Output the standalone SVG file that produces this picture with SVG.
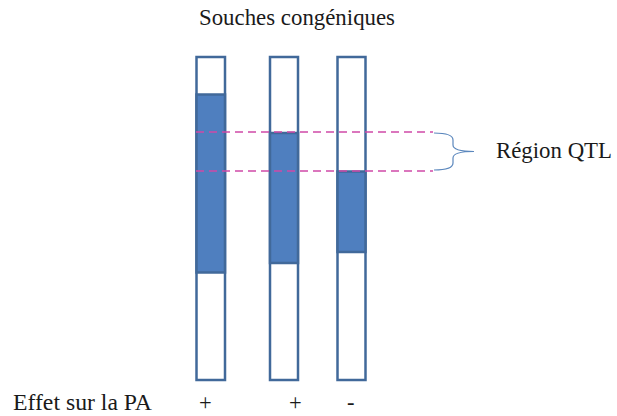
<svg xmlns="http://www.w3.org/2000/svg" width="617" height="416" viewBox="0 0 617 416">
  <style>
    .lbl { font-family: "Liberation Serif", "Times New Roman", "DejaVu Serif", serif; font-size: 22.5px; fill: #1a1a1a; }
    .bar { fill: #ffffff; stroke: #41699a; stroke-width: 2.5; }
    .seg { fill: #4f7fbf; stroke: #41699a; stroke-width: 2.5; }
    .qtl { stroke: #d04aa8; stroke-width: 1.6; stroke-dasharray: 8 5; fill: none; }
    .brace { stroke: #5b87bd; stroke-width: 1.2; fill: none; }
  </style>
  <rect width="617" height="416" fill="#ffffff"/>

  <text class="lbl" x="199" y="25" textLength="196" lengthAdjust="spacingAndGlyphs">Souches congéniques</text>

  <g id="strain1">
    <rect class="bar" x="196.5" y="57" width="28.5" height="323"/>
    <rect class="seg" x="196.5" y="94.5" width="28.5" height="178"/>
  </g>
  <g id="strain2">
    <rect class="bar" x="270" y="57" width="28" height="323"/>
    <rect class="seg" x="270" y="133" width="28" height="130"/>
  </g>
  <g id="strain3">
    <rect class="bar" x="337.5" y="57" width="28" height="323"/>
    <rect class="seg" x="337.5" y="171.5" width="28" height="80.5"/>
  </g>

  <g id="connectors">
    <line class="qtl" x1="196" y1="132" x2="433" y2="132"/>
    <line class="qtl" x1="196" y1="171" x2="433" y2="171"/>
    <path class="brace" d="M434,133 Q453,133 453,140 L453,145 Q453,151.5 474,151.5 Q453,151.5 453,158 L453,163 Q453,170 434,170"/>
  </g>

  <text class="lbl" x="496" y="158" textLength="116" lengthAdjust="spacingAndGlyphs">Région QTL</text>

  <text class="lbl" x="13" y="410" textLength="139" lengthAdjust="spacingAndGlyphs">Effet sur la PA</text>
  <text class="lbl" x="199" y="410">+</text>
  <text class="lbl" x="289" y="410">+</text>
  <text class="lbl" x="347" y="410">-</text>
</svg>
